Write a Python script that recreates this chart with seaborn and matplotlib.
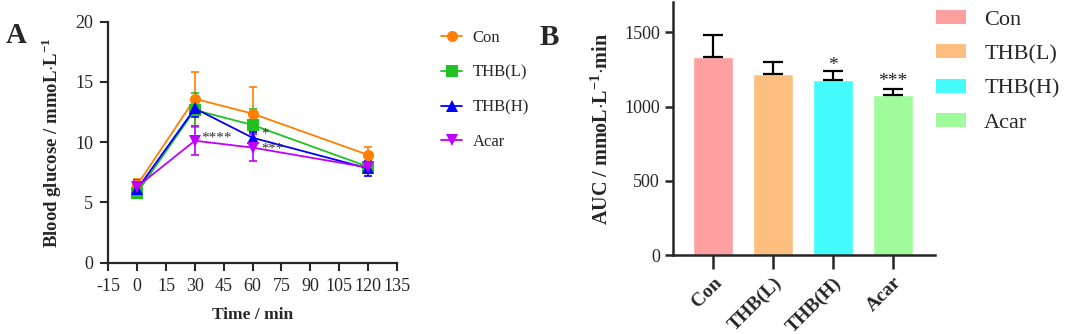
import numpy as np
import pandas as pd
import matplotlib
matplotlib.use("Agg")
import matplotlib.pyplot as plt
from matplotlib.patches import Patch
import seaborn as sns

# 資料：口服葡萄糖耐量 (Blood glucose) 與 AUC
groups = ["Con", "THB(L)", "THB(H)", "Acar"]
times = [0, 30, 60, 120]

glucose_con = [6.45, 13.6, 12.37, 8.95]
glucose_thbl = [5.81, 12.67, 11.43, 7.97]
glucose_thbh = [6.1, 12.8, 10.37, 7.83]
glucose_acar = [6.3, 10.12, 9.55, 7.9]

sd_con = [0.5, 2.25, 2.2, 0.65]
sd_thbl = [0.3, 1.4, 1.35, 0.3]
sd_thbh = [0.4, 0.7, 0.5, 0.6]
sd_acar = [0.6, 1.2, 1.1, 0.4]

auc_mean = [1331, 1219, 1178, 1076]
auc_sd = [150, 81, 59, 40]

line_colors = ["#FF8000", "#22C022", "#0000FF", "#C000FF"]
bar_colors = ["#FFA0A0", "#FDBF7F", "#45FCFC", "#A0FC9A"]
markers = ["o", "s", "^", "v"]

sns.set_style("ticks")
plt.rcParams["font.family"] = ["Liberation Serif", "DejaVu Serif"]
plt.rcParams["axes.unicode_minus"] = False
plt.rcParams["mathtext.fontset"] = "custom"
plt.rcParams["mathtext.rm"] = "Liberation Serif"
plt.rcParams["mathtext.bf"] = "Liberation Serif:bold"

fig = plt.figure(figsize=(10.65, 3.34), dpi=100)

# ---------------- A：血糖曲線 ----------------
axA = fig.add_axes([0.1017, 0.2135, 0.2708, 0.7216])
all_means = [glucose_con, glucose_thbl, glucose_thbh, glucose_acar]
all_sds = [sd_con, sd_thbl, sd_thbh, sd_acar]
df = pd.DataFrame({
    "Time": times * 4,
    "Glucose": sum(all_means, []),
    "Group": np.repeat(groups, len(times)),
})

for g, m, s, c in zip(groups, all_means, all_sds, line_colors):
    axA.errorbar(times, m, yerr=s, fmt="none", ecolor=c, elinewidth=1.2,
                 capsize=3, capthick=1.2, zorder=2)

sns.lineplot(data=df, x="Time", y="Glucose", hue="Group", style="Group",
             palette=dict(zip(groups, line_colors)),
             markers=dict(zip(groups, markers)), dashes=False,
             markersize=8, markeredgewidth=0, linewidth=1.3, ax=axA, zorder=3)

axA.set_xlim(-15, 135)
axA.set_ylim(0, 20)
axA.set_xticks(range(-15, 136, 15))
axA.set_yticks(range(0, 21, 5))
axA.set_xlabel("Time / min", fontsize=12.5, fontweight="bold", labelpad=9)
axA.set_ylabel(r"Blood glucose / mmoL$\cdot$L$^{\mathbf{-1}}$", fontsize=13.5,
               fontweight="bold", labelpad=8)
axA.tick_params(labelsize=13, width=1.5, length=6, pad=5)
for sp in ["left", "bottom"]:
    axA.spines[sp].set_linewidth(1.6)
sns.despine(ax=axA)

axA.text(33.5, 10.35, "****", fontsize=11, color="#333333", va="center")
axA.text(64.5, 10.7, "*", fontsize=10.5, color="#333333", va="center")
axA.text(64.5, 9.4, "***", fontsize=10.5, color="#333333", va="center")

axA.legend(loc="upper left", bbox_to_anchor=(0.408, 0.93), bbox_transform=fig.transFigure,
           frameon=False, fontsize=12, handlelength=1.25, handletextpad=0.65,
           labelspacing=1.12, borderaxespad=0, title=None)
fig.text(0.005, 0.87, "A", fontsize=21, fontweight="bold")

# ---------------- B：AUC 柱狀圖 ----------------
axB = fig.add_axes([0.6322, 0.2356, 0.2457, 0.757])
sns.barplot(x=groups, y=auc_mean, hue=groups, palette=bar_colors, saturation=1,
            width=0.667, legend=False, ax=axB)
axB.errorbar(range(len(groups)), auc_mean, yerr=[np.zeros(len(groups)), auc_sd],
             fmt="none", ecolor="black", elinewidth=1.6, capsize=7, capthick=1.6)

axB.set_xlim(-0.66, 3.7)
axB.set_ylim(0, 1700)
axB.set_yticks([0, 500, 1000, 1500])
axB.set_ylabel(r"AUC / mmoL$\cdot$L$^{\mathbf{-1}}$$\cdot$min", fontsize=14.5,
               fontweight="bold", labelpad=8)
axB.set_xlabel("")
axB.tick_params(axis="y", labelsize=13, width=1.8, length=6)
axB.tick_params(axis="x", labelsize=14, width=1.8, length=10)
plt.setp(axB.get_xticklabels(), rotation=45, ha="right", rotation_mode="anchor",
         fontweight="bold")
for sp in ["left", "bottom"]:
    axB.spines[sp].set_linewidth(1.8)
sns.despine(ax=axB)

axB.text(2, 1218, "*", fontsize=14, ha="center", va="bottom", color="#222222")
axB.text(3, 1112, "***", fontsize=14, ha="center", va="bottom", color="#222222")

handles = [Patch(facecolor=c, edgecolor="none") for c in bar_colors]
axB.legend(handles, groups, loc="upper left", bbox_to_anchor=(0.879, 0.97),
           bbox_transform=fig.transFigure, frameon=False, fontsize=16,
           handlelength=1.36, handleheight=0.6, handletextpad=0.8,
           labelspacing=0.65, borderaxespad=0, borderpad=0)
fig.text(0.507, 0.865, "B", fontsize=21, fontweight="bold")

fig.savefig("out.png", dpi=100)
